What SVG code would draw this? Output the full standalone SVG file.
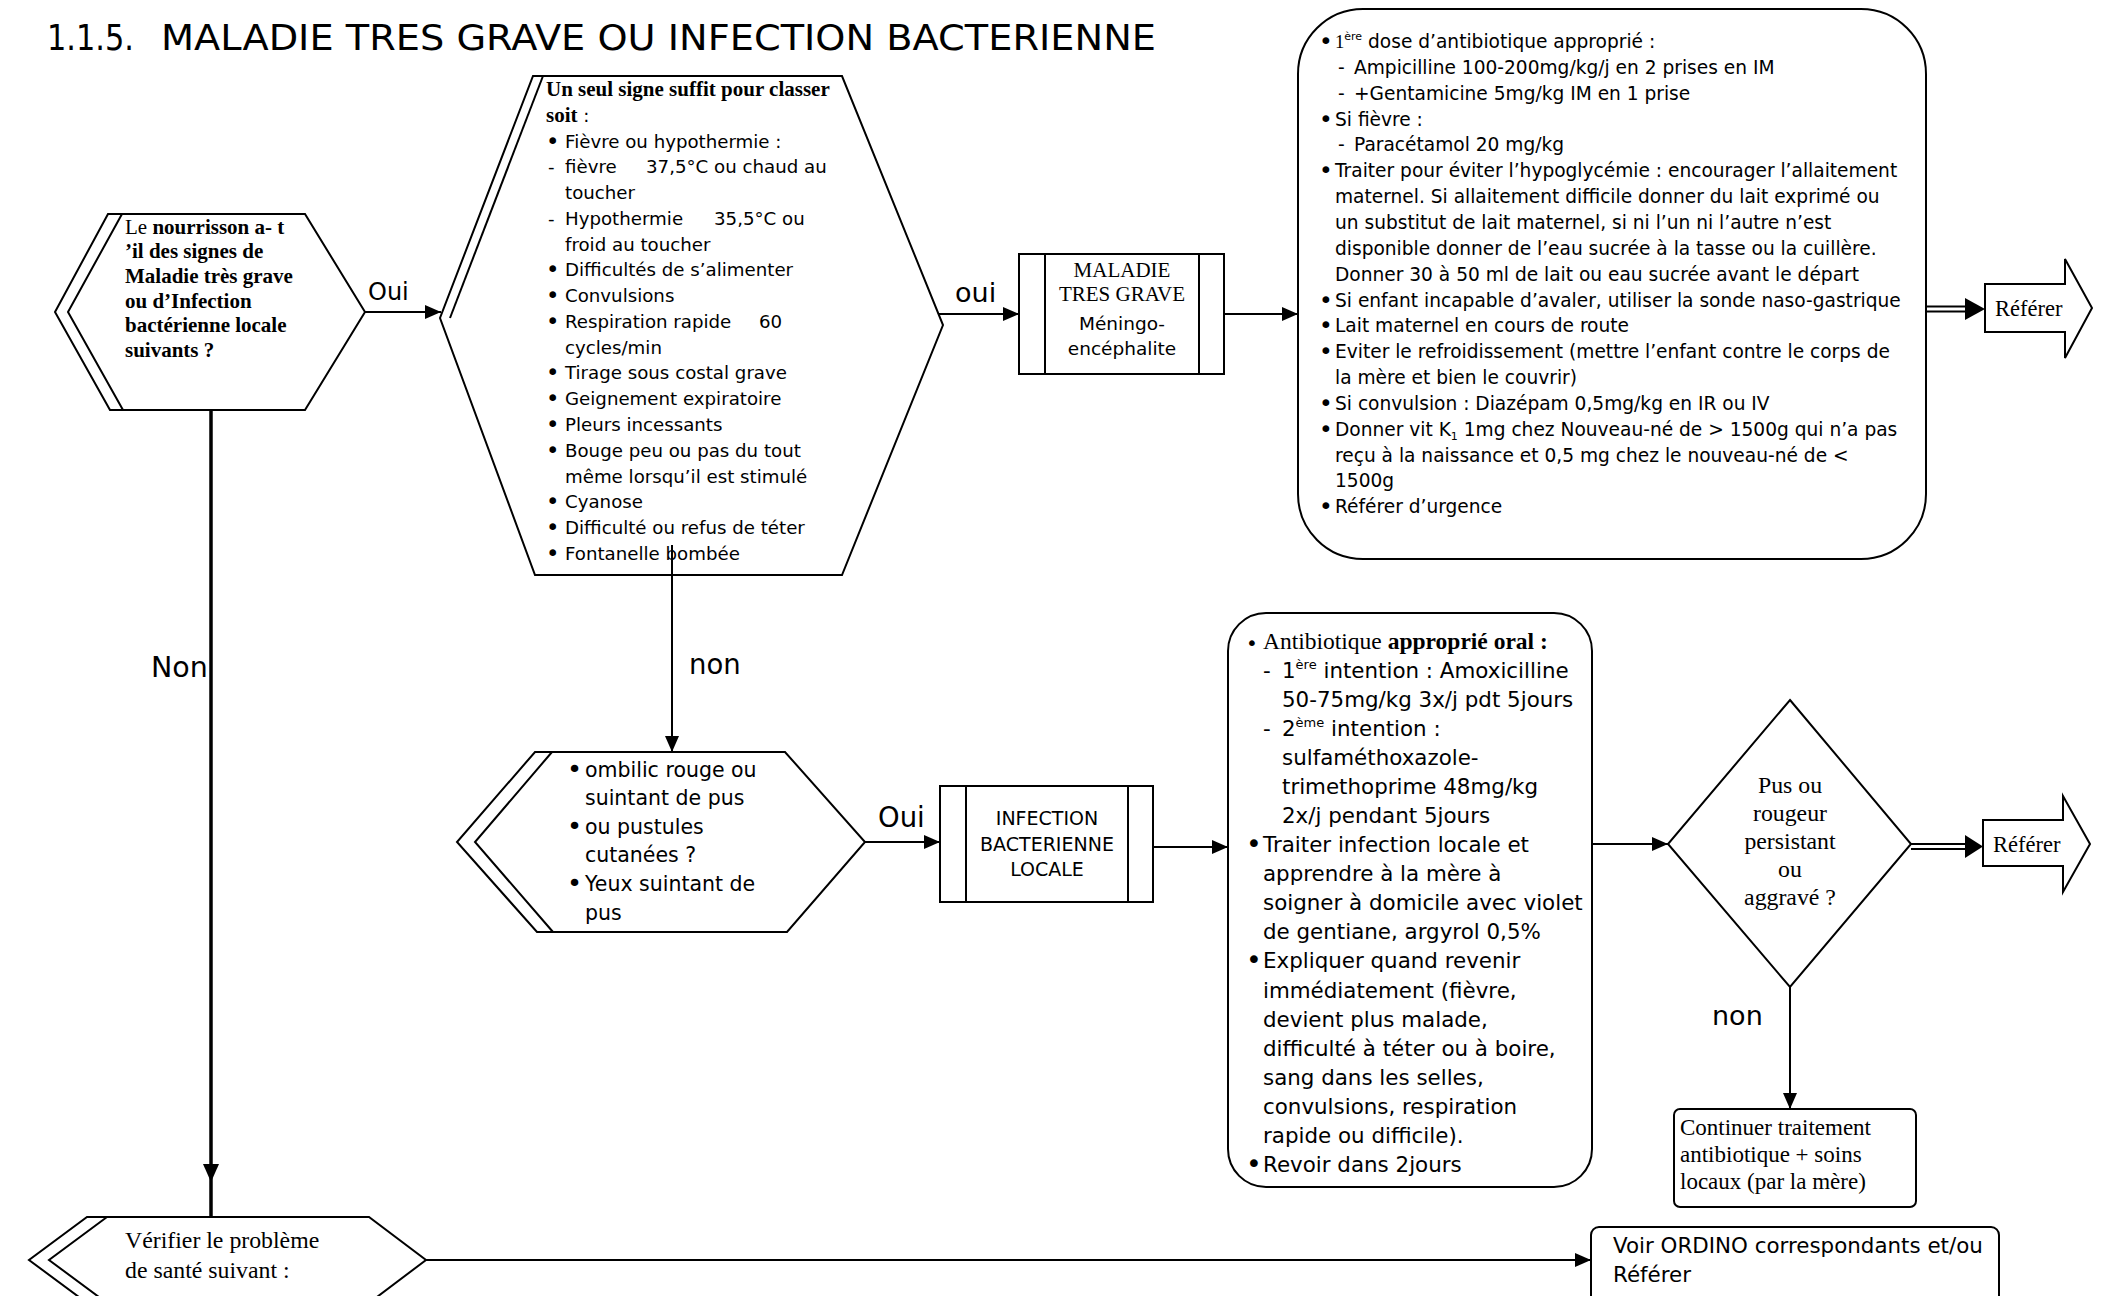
<svg xmlns="http://www.w3.org/2000/svg" width="2102" height="1296" viewBox="0 0 2102 1296">
<style>
.bg{fill:#fff}
.shape{fill:#fff;stroke:#000;stroke-width:2}
.ln{fill:none;stroke:#000;stroke-width:2}
.thick{fill:none;stroke:#000;stroke-width:3.5}
.s{font-family:"DejaVu Sans","Verdana",sans-serif;fill:#000}
.t{font-family:"Liberation Serif","Times New Roman",serif;fill:#000}
.b{font-weight:bold}
.mid{text-anchor:middle}
.head{fill:#000;stroke:none}
.bu{font-size:1.25em}
</style>
<defs>
<marker id="arr" markerUnits="userSpaceOnUse" markerWidth="17" markerHeight="14" refX="16" refY="7" orient="auto">
<path d="M0,0 L16,7 L0,14 z" fill="#000"/>
</marker>
</defs>
<rect class="bg" x="0" y="0" width="2102" height="1296"/>

<g id="title">
<text class="s" x="47" y="50" font-size="36" textLength="87" lengthAdjust="spacingAndGlyphs">1.1.5.</text>
<text class="s" x="161" y="50" font-size="36" textLength="995" lengthAdjust="spacingAndGlyphs">MALADIE TRES GRAVE OU INFECTION BACTERIENNE</text>
</g>

<g id="q-nourrisson">
<polygon class="shape" points="108,214 305,214 365,312 305,410 110,410 55,312"/>
<polyline class="ln" points="122,214 68,312 123,410"/>
<g class="t" font-size="21">
<text x="125" y="234">Le <tspan class="b">nourrisson  a- t</tspan></text>
<text x="125" y="258" class="b">’il des signes de</text>
<text x="125" y="283" class="b">Maladie très grave</text>
<text x="125" y="308" class="b">ou d’Infection</text>
<text x="125" y="332" class="b">bactérienne locale</text>
<text x="125" y="357" class="b">suivants ?</text>
</g>
</g>

<g id="signes-graves">
<polygon class="shape" points="533,76 842,76 943,325 842,575 535,575 440,318"/>
<polyline class="ln" points="543,76 450,318"/>
<text class="t b" x="546" y="96" font-size="21">Un seul signe suffit pour classer</text>
<text class="t b" x="546" y="122" font-size="21">soit<tspan class="s" font-weight="normal" font-size="18.2"> :</tspan></text>
<g class="s" font-size="18.2">
<text x="546" y="149" class="bu">•</text><text x="565" y="148">Fièvre ou hypothermie :</text>
<text x="548" y="173">-</text><text x="565" y="173">fièvre</text><text x="646" y="173">37,5°C ou chaud au</text>
<text x="565" y="199">toucher</text>
<text x="548" y="225">-</text><text x="565" y="225">Hypothermie</text><text x="714" y="225">35,5°C ou</text>
<text x="565" y="251">froid au toucher</text>
<text x="546" y="277" class="bu">•</text><text x="565" y="276">Difficultés de s’alimenter</text>
<text x="546" y="303" class="bu">•</text><text x="565" y="302">Convulsions</text>
<text x="546" y="329" class="bu">•</text><text x="565" y="328">Respiration rapide</text><text x="759" y="328">60</text>
<text x="565" y="354">cycles/min</text>
<text x="546" y="380" class="bu">•</text><text x="565" y="379">Tirage sous costal grave</text>
<text x="546" y="406" class="bu">•</text><text x="565" y="405">Geignement expiratoire</text>
<text x="546" y="432" class="bu">•</text><text x="565" y="431">Pleurs incessants</text>
<text x="546" y="458" class="bu">•</text><text x="565" y="457">Bouge peu ou pas du tout</text>
<text x="565" y="483">même lorsqu’il est stimulé</text>
<text x="546" y="509" class="bu">•</text><text x="565" y="508">Cyanose</text>
<text x="546" y="535" class="bu">•</text><text x="565" y="534">Difficulté ou refus de téter</text>
<text x="546" y="561" class="bu">•</text><text x="565" y="560">Fontanelle bombée</text>
</g>
</g>

<g id="maladie-tres-grave">
<rect class="shape" x="1019" y="254" width="205" height="120"/>
<line class="ln" x1="1045" y1="254" x2="1045" y2="374"/>
<line class="ln" x1="1199" y1="254" x2="1199" y2="374"/>
<text class="t mid" x="1122" y="277" font-size="21">MALADIE</text>
<text class="t mid" x="1122" y="301" font-size="21">TRES GRAVE</text>
<text class="s mid" x="1122" y="330" font-size="18.5">Méningo-</text>
<text class="s mid" x="1122" y="355" font-size="18.5">encéphalite</text>
</g>

<g id="traitement-grave">
<rect class="shape" x="1298" y="9" width="628" height="550" rx="65" ry="65"/>
<g class="s" font-size="18.6">
<text x="1319" y="49" class="bu">•</text><text x="1335" y="48"><tspan class="t">1</tspan><tspan font-size="11" dy="-8">ère</tspan><tspan dy="8"> dose d’antibiotique approprié :</tspan></text>
<text x="1338" y="74">-</text><text x="1354" y="74">Ampicilline 100-200mg/kg/j en 2 prises en IM</text>
<text x="1338" y="100">-</text><text x="1354" y="100">+Gentamicine 5mg/kg IM en 1 prise</text>
<text x="1319" y="127" class="bu">•</text><text x="1335" y="126">Si fièvre :</text>
<text x="1338" y="151">-</text><text x="1354" y="151">Paracétamol 20 mg/kg</text>
<text x="1319" y="178" class="bu">•</text><text x="1335" y="177">Traiter pour éviter l’hypoglycémie : encourager l’allaitement</text>
<text x="1335" y="203">maternel. Si allaitement difficile donner du lait exprimé ou</text>
<text x="1335" y="229">un substitut de lait maternel, si ni l’un ni l’autre n’est</text>
<text x="1335" y="255">disponible donner de l’eau sucrée à la tasse ou la cuillère.</text>
<text x="1335" y="281">Donner 30 à 50 ml de lait ou eau sucrée avant le départ</text>
<text x="1319" y="308" class="bu">•</text><text x="1335" y="307">Si enfant incapable d’avaler, utiliser la sonde naso-gastrique</text>
<text x="1319" y="333" class="bu">•</text><text x="1335" y="332">Lait maternel en cours de route</text>
<text x="1319" y="359" class="bu">•</text><text x="1335" y="358">Eviter le refroidissement (mettre l’enfant contre le corps de</text>
<text x="1335" y="384">la mère et bien le couvrir)</text>
<text x="1319" y="411" class="bu">•</text><text x="1335" y="410">Si convulsion : Diazépam 0,5mg/kg en IR ou IV</text>
<text x="1319" y="437" class="bu">•</text><text x="1335" y="436">Donner vit K<tspan font-size="11" dy="4">1</tspan><tspan dy="-4"> 1mg chez Nouveau-né de &gt; 1500g qui n’a pas</tspan></text>
<text x="1335" y="462">reçu à la naissance et 0,5 mg chez le nouveau-né de &lt;</text>
<text x="1335" y="487">1500g</text>
<text x="1319" y="514" class="bu">•</text><text x="1335" y="513">Référer d’urgence</text>
</g>
</g>

<g id="referer-1">
<polygon class="shape" points="1985,284 2065,284 2065,259 2092,308 2065,358 2065,332 1985,332"/>
<text class="t" x="1995" y="316" font-size="22.5">Référer</text>
</g>

<g id="q-infection-locale">
<polygon class="shape" points="535,752 785,752 865,842 787,932 537,932 457,842"/>
<polyline class="ln" points="552,752 475,842 553,932"/>
<g class="s" font-size="20.5">
<text x="567" y="778" class="bu">•</text><text x="585" y="777">ombilic rouge ou</text>
<text x="585" y="805">suintant de pus</text>
<text x="567" y="835" class="bu">•</text><text x="585" y="834">ou pustules</text>
<text x="585" y="862">cutanées ?</text>
<text x="567" y="892" class="bu">•</text><text x="585" y="891">Yeux suintant de</text>
<text x="585" y="920">pus</text>
</g>
</g>

<g id="infection-bacterienne-locale">
<rect class="shape" x="940" y="786" width="213" height="116"/>
<line class="ln" x1="966" y1="786" x2="966" y2="902"/>
<line class="ln" x1="1128" y1="786" x2="1128" y2="902"/>
<text class="s mid" x="1047" y="825" font-size="19">INFECTION</text>
<text class="s mid" x="1047" y="851" font-size="19">BACTERIENNE</text>
<text class="s mid" x="1047" y="876" font-size="19">LOCALE</text>
</g>

<g id="traitement-local">
<rect class="shape" x="1228" y="613" width="364" height="574" rx="38" ry="38"/>
<text class="s bu" x="1246" y="650" font-size="21.4">•</text>
<text class="t" x="1263" y="649" font-size="23.5">Antibiotique <tspan class="b">approprié oral :</tspan></text>
<g class="s" font-size="21.4">
<text x="1263" y="678">-</text><text x="1282" y="678">1<tspan font-size="13" dy="-9">ère</tspan><tspan dy="9"> intention : Amoxicilline</tspan></text>
<text x="1282" y="707">50-75mg/kg 3x/j pdt 5jours</text>
<text x="1263" y="736">-</text><text x="1282" y="736">2<tspan font-size="13" dy="-9">ème</tspan><tspan dy="9"> intention :</tspan></text>
<text x="1282" y="765">sulfaméthoxazole-</text>
<text x="1282" y="794">trimethoprime 48mg/kg</text>
<text x="1282" y="823">2x/j pendant 5jours</text>
<text x="1246" y="853" class="bu">•</text><text x="1263" y="852">Traiter infection locale et</text>
<text x="1263" y="881">apprendre à la mère à</text>
<text x="1263" y="910">soigner à domicile avec violet</text>
<text x="1263" y="939">de gentiane, argyrol 0,5%</text>
<text x="1246" y="969" class="bu">•</text><text x="1263" y="968">Expliquer quand revenir</text>
<text x="1263" y="998">immédiatement (fièvre,</text>
<text x="1263" y="1027">devient plus malade,</text>
<text x="1263" y="1056">difficulté à téter ou à boire,</text>
<text x="1263" y="1085">sang dans les selles,</text>
<text x="1263" y="1114">convulsions, respiration</text>
<text x="1263" y="1143">rapide ou difficile).</text>
<text x="1246" y="1173" class="bu">•</text><text x="1263" y="1172">Revoir dans 2jours</text>
</g>
</g>

<g id="q-pus">
<polygon class="shape" points="1790,700 1911,844 1790,987 1668,844"/>
<g class="t mid" font-size="23.8">
<text x="1790" y="793">Pus ou</text>
<text x="1790" y="821">rougeur</text>
<text x="1790" y="849">persistant</text>
<text x="1790" y="877">ou</text>
<text x="1790" y="905">aggravé ?</text>
</g>
</g>

<g id="referer-2">
<polygon class="shape" points="1983,820 2063,820 2063,796 2090,844 2063,892 2063,866 1983,866"/>
<text class="t" x="1993" y="852" font-size="22.5">Référer</text>
</g>

<g id="continuer">
<rect class="shape" x="1674" y="1109" width="242" height="98" rx="6" ry="6"/>
<g class="t" font-size="23">
<text x="1680" y="1135">Continuer traitement</text>
<text x="1680" y="1162">antibiotique + soins</text>
<text x="1680" y="1189">locaux (par la mère)</text>
</g>
</g>

<g id="q-verifier">
<polygon class="shape" points="87,1217 369,1217 426,1260 369,1303 87,1303 29,1260"/>
<polyline class="ln" points="107,1217 49,1260 107,1303"/>
<text class="t" x="125" y="1248" font-size="23.8">Vérifier le problème</text>
<text class="t" x="125" y="1278" font-size="23.8">de santé suivant :</text>
</g>

<g id="voir-ordino">
<rect class="shape" x="1591" y="1227" width="408" height="100" rx="8" ry="8"/>
<text class="s" x="1613" y="1253" font-size="21.4">Voir ORDINO correspondants et/ou</text>
<text class="s" x="1613" y="1282" font-size="21.4">Référer</text>
</g>

<g id="connectors">
<line class="ln" x1="365" y1="312" x2="441" y2="312" marker-end="url(#arr)"/>
<line class="ln" x1="938" y1="314" x2="1019" y2="314" marker-end="url(#arr)"/>
<line class="ln" x1="1224" y1="314" x2="1298" y2="314" marker-end="url(#arr)"/>
<line class="ln" x1="1926" y1="306.5" x2="1968" y2="306.5"/>
<line class="ln" x1="1926" y1="311.5" x2="1968" y2="311.5"/>
<polygon class="head" points="1965,298 1985,309 1965,320"/>
<line class="ln" x1="672" y1="545" x2="672" y2="752" marker-end="url(#arr)"/>
<line class="ln" x1="865" y1="842" x2="940" y2="842" marker-end="url(#arr)"/>
<line class="ln" x1="1153" y1="847" x2="1228" y2="847" marker-end="url(#arr)"/>
<line class="ln" x1="1592" y1="844" x2="1668" y2="844" marker-end="url(#arr)"/>
<line class="ln" x1="1911" y1="844" x2="1967" y2="844"/>
<line class="ln" x1="1911" y1="849" x2="1967" y2="849"/>
<polygon class="head" points="1965,835 1983,846.5 1965,858"/>
<line class="ln" x1="1790" y1="987" x2="1790" y2="1109" marker-end="url(#arr)"/>
<line class="thick" x1="211" y1="410" x2="211" y2="1217"/>
<polygon class="head" points="203,1164 219,1164 211,1182"/>
<line class="ln" x1="426" y1="1260" x2="1591" y2="1260" marker-end="url(#arr)"/>
<g class="s" font-size="27.5">
<text x="368" y="300" font-size="24">Oui</text>
<text x="955" y="302" font-size="27">oui</text>
<text x="689" y="674">non</text>
<text x="151" y="677" font-size="28.5">Non</text>
<text x="878" y="827">Oui</text>
<text x="1712" y="1025" font-size="27">non</text>
</g>
</g>
</svg>
